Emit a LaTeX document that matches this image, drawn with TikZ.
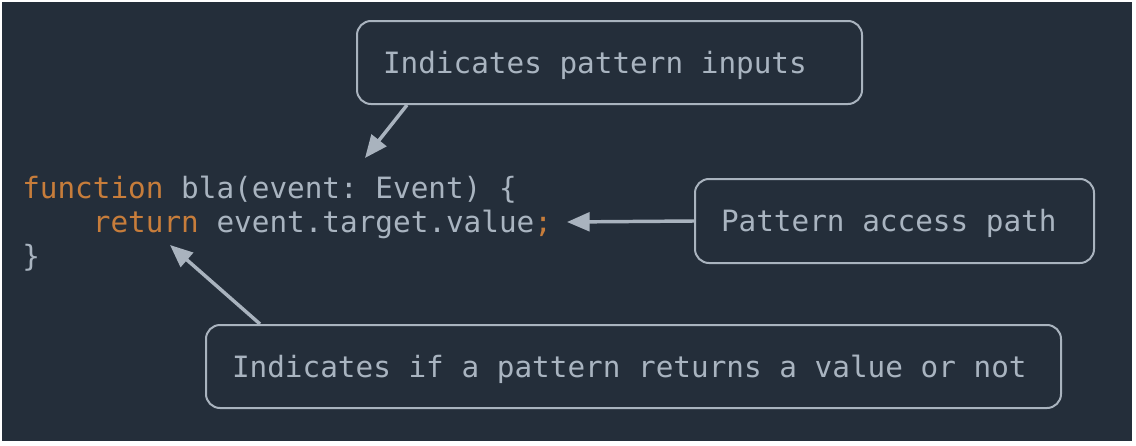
\documentclass[tikz,border=0pt]{standalone}
\usepackage{fontspec}
\setmonofont{DejaVu Sans Mono}
\newfontfamily\codefam{DejaVu Sans Mono}
\usetikzlibrary{arrows.meta,calc}
\frenchspacing
\definecolor{bgc}{HTML}{242E3A}
\definecolor{fgc}{HTML}{A9B4C0}
\definecolor{kwc}{HTML}{C77D3B}
\definecolor{edc}{HTML}{A9B3BE}
\tikzset{
  codefont/.style={font=\codefam\fontsize{22}{26}\selectfont},
  codeline/.style={codefont, anchor=base west, inner sep=0pt, text=fgc},
  callout/.style={codefont, draw=edc, line width=1.5pt, rounded corners=10.5pt,
    text=fgc, inner xsep=19.5pt, inner ysep=0pt,
    text height=16pt, text depth=0pt},
  pointer/.style={draw=edc, line width=2.6pt, -{Triangle[length=17pt,width=14pt]}}
}
\begin{document}
\begin{tikzpicture}[x=0.75pt,y=-0.75pt]
\useasboundingbox (0,0) rectangle (1136,446);
\fill[bgc] (2,2) rectangle (1132,441);
% code
\node[codeline] (l1) at (22,198) {\textcolor{kwc}{function} bla(event: Event) \{};
\node[codeline] (l2) at (22,232) {\hphantom{xxxx}\textcolor{kwc}{return} event.target.value\textcolor{kwc}{;}};
\node[codeline] (l3) at (22,266) {\}};
% callouts
\node[callout, minimum height=83*0.75pt] (b1) at (609.5,62.5) {\makebox[339.75pt][l]{Indicates pattern inputs}};
\node[callout, minimum height=84*0.75pt] (b2) at (894.5,221) {\makebox[260.25pt][l]{Pattern access path}};
\node[callout, minimum height=83*0.75pt] (b3) at (633.5,366.5) {\makebox[602.25pt][l]{Indicates if a pattern returns a value or not}};
% pointer targets
\coordinate (t1) at (365,158);
\coordinate (t2) at (567,222);
\coordinate (t3) at (170,245);
\draw[pointer] ($(b1.south west)+(51,0)$) -- (t1);
\draw[pointer] (b2.west) -- (t2);
\draw[pointer] ($(b3.north west)+(55,0)$) -- (t3);
\end{tikzpicture}
\end{document}
